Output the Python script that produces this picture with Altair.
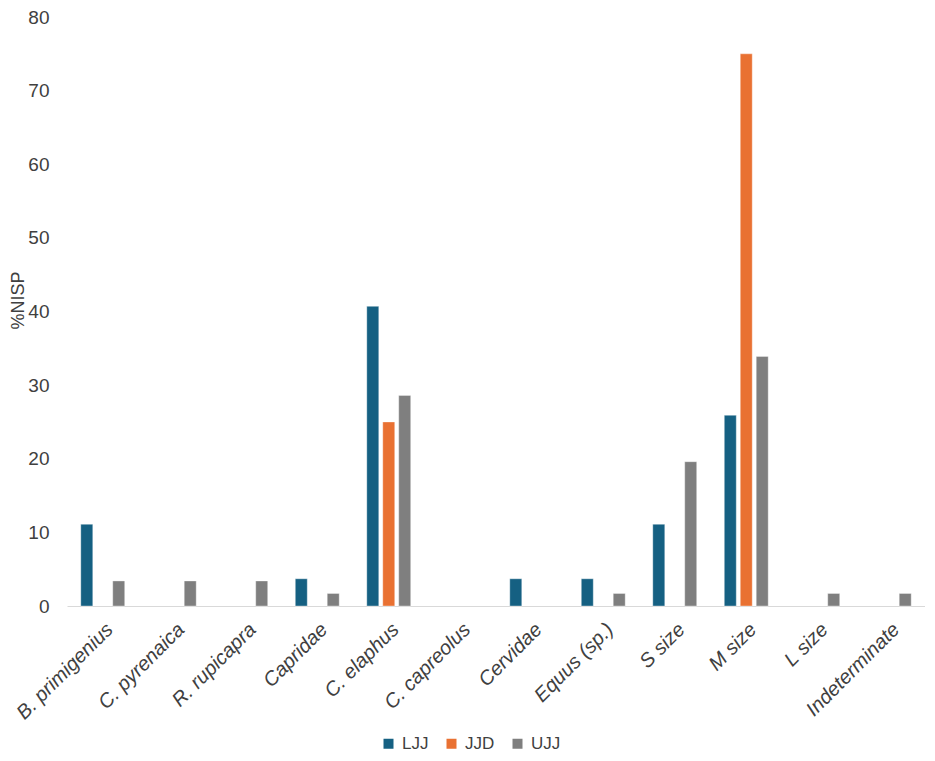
import altair as alt
import pandas as pd

categories = ["B. primigenius", "C. pyrenaica", "R. rupicapra", "Capridae", "C. elaphus",
              "C. capreolus", "Cervidae", "Equus (sp.)", "S size", "M size", "L size",
              "Indeterminate"]
series = ["LJJ", "JJD", "UJJ"]
ljj = [11.1, 0, 0, 3.7, 40.7, 0, 3.7, 3.7, 11.1, 25.9, 0, 0]
jjd = [0, 0, 0, 0, 25.0, 0, 0, 0, 0, 75.0, 0, 0]
ujj = [3.4, 3.4, 3.4, 1.7, 28.6, 0, 0, 1.7, 19.6, 33.9, 1.7, 1.7]
colors = ["#156082", "#E97132", "#7F7F7F"]

rows = []
for s, vals in zip(series, [ljj, jjd, ujj]):
    for c, v in zip(categories, vals):
        rows.append({"category": c, "series": s, "value": v})
df = pd.DataFrame(rows)

FONT = "Liberation Sans"
TXT = "#404040"

chart = alt.Chart(df).transform_filter(
    alt.datum.value > 0
).mark_bar(stroke="white", strokeWidth=0.6, strokeOpacity=0.6).encode(
    x=alt.X("category:N", sort=categories,
            scale=alt.Scale(domain=categories, paddingInner=0.33, paddingOuter=0.165),
            axis=alt.Axis(title=None, labelAngle=-45, labelFontStyle="italic",
                          labelFontSize=20, labelFont=FONT, labelColor=TXT,
                          ticks=False, tickSize=0, labelPadding=13,
                          domainColor="#D9D9D9", domainWidth=1.2,
                          labelLimit=300)),
    xOffset=alt.XOffset("series:N", sort=series,
                        scale=alt.Scale(domain=series, paddingInner=0.25, paddingOuter=0.125)),
    y=alt.Y("value:Q", scale=alt.Scale(domain=[0, 80], nice=False),
            axis=alt.Axis(title="%NISP", values=[0, 10, 20, 30, 40, 50, 60, 70, 80],
                          grid=False, domain=False, ticks=False, tickSize=0,
                          labelFontSize=19, labelFont=FONT, labelColor=TXT,
                          labelPadding=18, titleFontSize=18, titleFont=FONT,
                          titleColor=TXT, titleFontWeight="normal",
                          titleAngle=270, titleAlign="center", titleBaseline="bottom",
                          titleX=-40, titleY=283)),
    color=alt.Color("series:N", sort=series,
                    scale=alt.Scale(domain=series, range=colors),
                    legend=alt.Legend(title=None, orient="none", direction="horizontal",
                                      legendX=313, legendY=718, symbolType="square",
                                      symbolSize=100, symbolStrokeWidth=0,
                                      labelFontSize=17, labelFont=FONT, labelColor=TXT,
                                      labelOffset=5, columnPadding=14)),
).properties(
    width=858, height=589,
    autosize=alt.AutoSizeParams(type="none"),
    padding={"left": 59, "top": 9, "right": 0, "bottom": 146},
).configure_view(stroke=None)

chart.save("out.html", embed_options={"renderer": "svg", "actions": False})
